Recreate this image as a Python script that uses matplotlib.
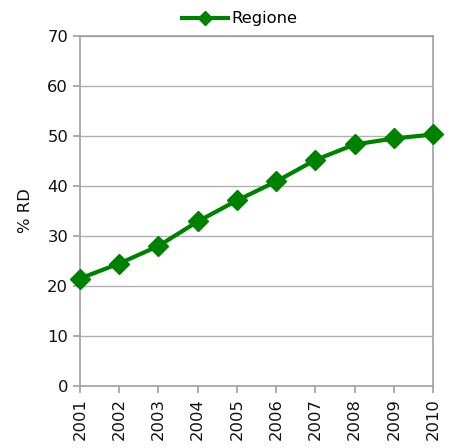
import matplotlib
matplotlib.use("Agg")
import matplotlib.pyplot as plt

years = ["2001", "2002", "2003", "2004", "2005", "2006", "2007", "2008", "2009", "2010"]
values = [21.5, 24.5, 28.0, 32.9, 37.1, 40.9, 45.2, 48.3, 49.5, 50.3]
yticks = [0, 10, 20, 30, 40, 50, 60, 70]
series_name = "Regione"
ylabel = "% RD"

plt.rcParams['font.family'] = ['DejaVu Sans']
fig = plt.figure(figsize=(4.54, 4.48), dpi=100)
ax = fig.add_axes([80/454, 1-386/448, (433-80)/454, (386-36)/448])

x = list(range(len(years)))
ax.plot(x, values, color="#008000", lw=3, marker="D", ms=10.5, mec="#008000", mew=1,
        label=series_name, clip_on=False, zorder=3)

ax.set_xlim(0, len(years) - 1)
ax.set_ylim(0, 70)
ax.set_yticks(yticks)
ax.set_xticks(x)
ax.set_xticklabels(years, rotation=90)
ax.yaxis.grid(True, color="#b0b0b0", lw=1)
ax.set_axisbelow(True)
for s in ax.spines.values():
    s.set_color("#a0a0a0")
    s.set_linewidth(1.2)
ax.tick_params(axis="both", colors="#a0a0a0", labelcolor="#111111", labelsize=11.8, length=5, width=1.2)
ax.set_ylabel(ylabel, fontsize=11.8, labelpad=10, color="#111111")

leg = fig.legend(loc="center", bbox_to_anchor=(240/454, 1-19/448), frameon=False,
                 fontsize=11.8, handlelength=2.8, handletextpad=0.2, markerscale=0.7)

fig.savefig("out.png", dpi=100)
